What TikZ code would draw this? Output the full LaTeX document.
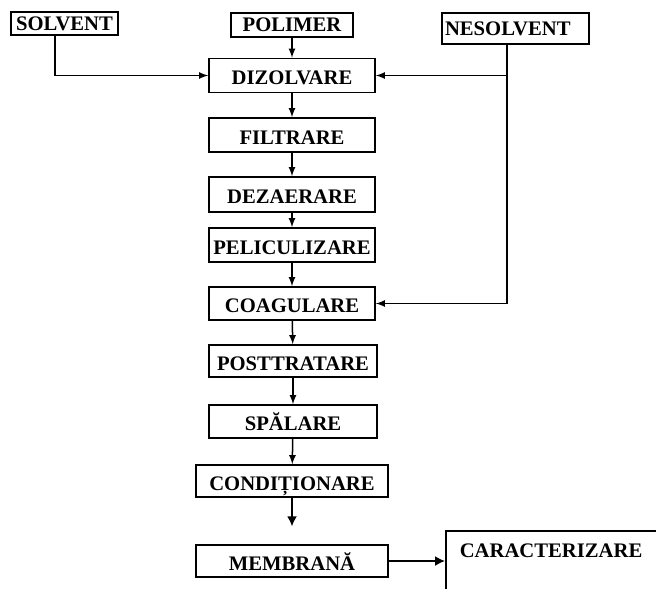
\documentclass[tikz,border=0pt]{standalone}
\usepackage{fontspec}
\setmainfont{Liberation Serif}
\usetikzlibrary{arrows.meta}

\begin{document}
\begin{tikzpicture}[x=0.6pt, y=-0.6pt, line width=0.9pt,
	font=\fontsize{12.4}{14}\selectfont\bfseries,
	box/.style={draw, inner sep=0pt, text depth=0pt},
	src/.style={box, text height=1.7ex},
	proc/.style={box, text height=2.4ex, minimum width=99.6pt, minimum height=20.4pt},
	wide/.style={proc, minimum width=115.2pt, minimum height=19.2pt},
	bigtip/.style={-{Latex[length=6pt, width=6pt]}}]
\useasboundingbox (0, 0) rectangle (656, 588);
\clip (0, 0) rectangle (656, 588);

%inputs
\node[src, minimum width=64.2pt, minimum height=13.8pt] (solvent) at (64.5, 23.5) {SOLVENT};
\node[src, minimum width=73.2pt, minimum height=14.4pt] (polimer) at (292, 25) {POLIMER};
\node[src, minimum height=18.6pt, text width=84.6pt, inner xsep=1.8pt, align=left]
	(nesolvent) at (515.5, 28.5) {NESOLVENT};

%process steps
\node[proc] (dizolvare) at (292, 75.5) {DIZOLVARE};
\node[proc] (filtrare) at (292, 135) {FILTRARE};
\node[proc, minimum height=21pt] (dezaerare) at (292, 194.5) {DEZAERARE};
\node[proc] (peliculizare) at (292, 245) {PELICULIZARE};
\node[proc, minimum height=19.8pt] (coagulare) at (292, 303.5) {COAGULARE};
\node[proc, minimum width=100.8pt, minimum height=19.2pt] (posttratare) at (293, 361) {POSTTRATARE};
\node[proc, minimum width=100.8pt, minimum height=19.8pt] (spalare) at (293, 421.5) {SPĂLARE};
\node[wide] (conditionare) at (292, 481) {CONDIȚIONARE};
\node[wide] (membrana) at (292, 561) {MEMBRANĂ};

%output, cut off by the edge
\node[draw, anchor=north west, inner xsep=8.4pt, inner ysep=0pt, text height=15.8pt,
	text depth=60pt, text width=200pt, align=left]
	(caracterizare) at (445, 530) {CARACTERIZARE};

%feeds
\coordinate (nbus) at ([xshift=-5.1pt]nesolvent.south);
\draw[-latex] ([xshift=-5.7pt]solvent.south) |- (dizolvare.west);
\draw[-latex] (polimer) -- (dizolvare);
\draw[-latex] (nbus) |- (coagulare.east);
\draw[-latex] (nbus |- dizolvare.east) -- (dizolvare.east);

%main line
\draw[-latex] (dizolvare) -- (filtrare);
\draw[-latex] (filtrare) -- (dezaerare);
\draw[-latex] (dezaerare) -- (peliculizare);
\draw[-latex] (peliculizare) -- (coagulare);
\draw[-latex] (coagulare) -- (posttratare);
\draw[-latex] (posttratare) -- (spalare);
\draw[-latex] (spalare) -- (conditionare);
\draw[bigtip, shorten >=10.8pt] (conditionare) -- (membrana);
\draw[bigtip] (membrana.east) -- (membrana.east -| caracterizare.west);

\end{tikzpicture}
\end{document}
